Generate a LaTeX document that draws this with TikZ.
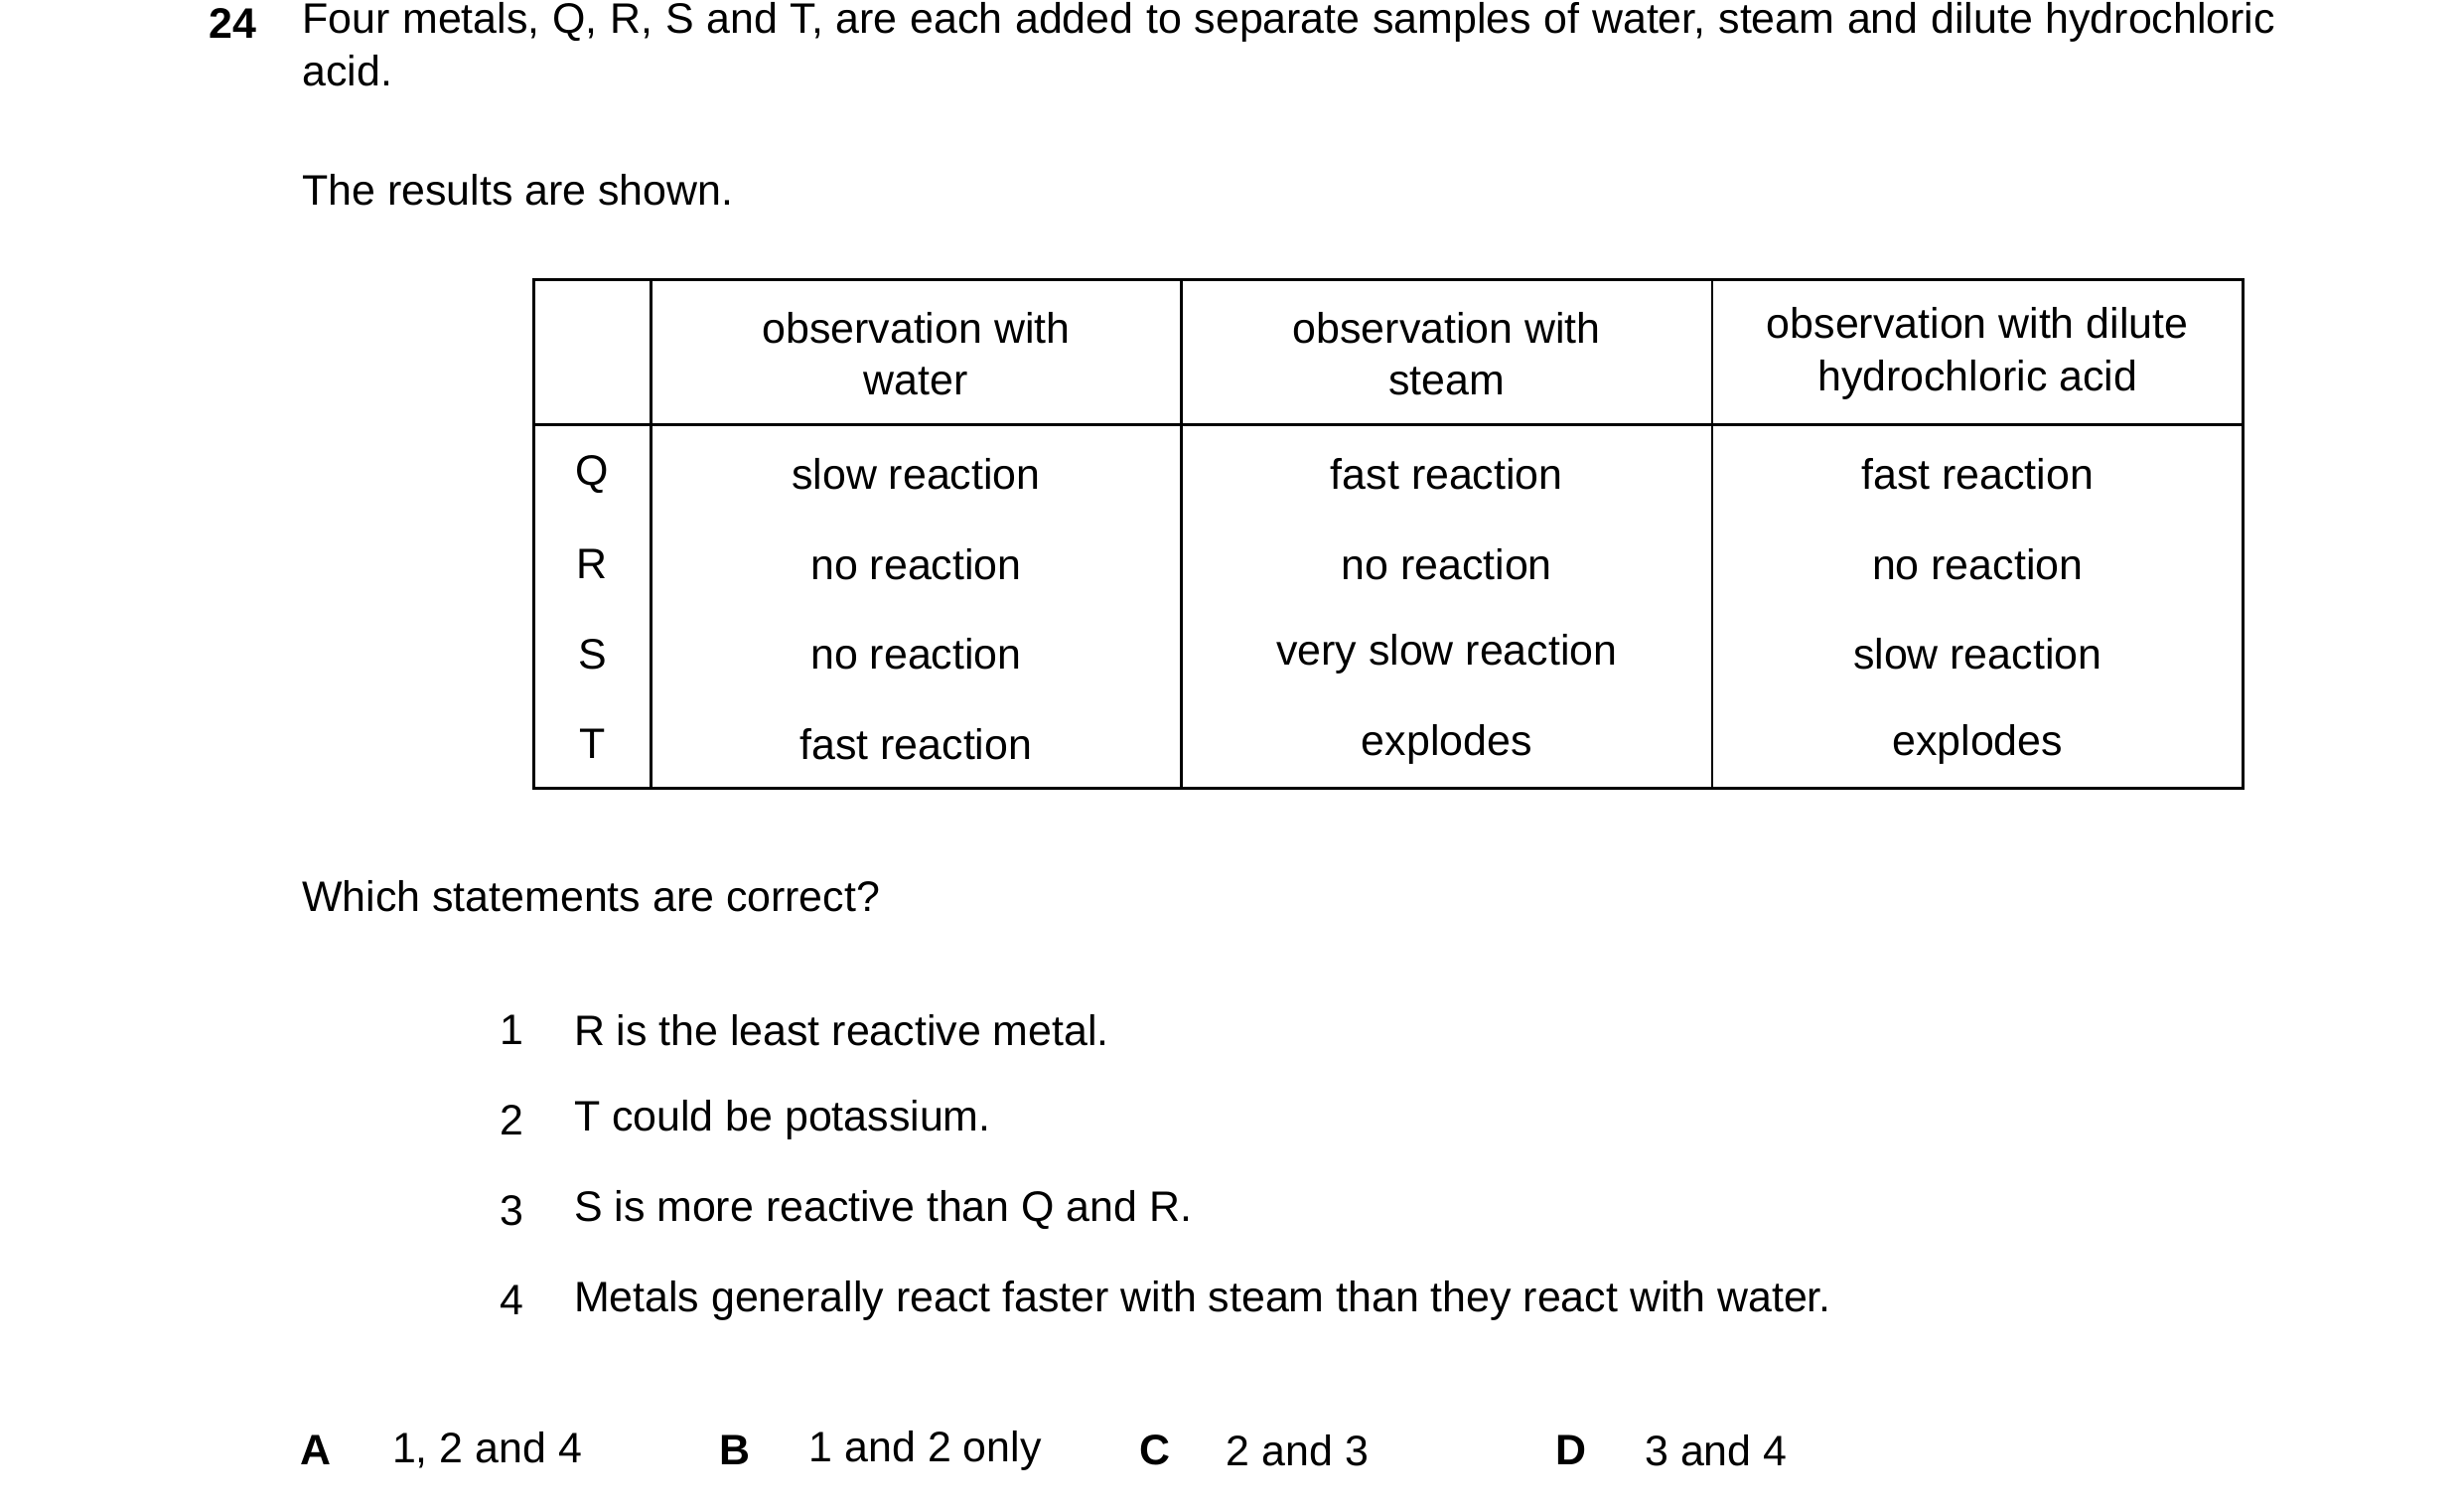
\documentclass[tikz,border=0pt]{standalone}
\usepackage{fontspec}
\setmainfont{Liberation Sans}

\begin{document}
\begin{tikzpicture}[x=0.0159cm,y=-0.0159cm,font=\fontsize{12.2}{15}\selectfont,
    txt/.style={anchor=west,inner sep=0pt},
    cell/.style={align=center,inner sep=0pt},
    grid/.style={line width=0.8pt}]

            \useasboundingbox (0,0) rectangle (1560,955);

            \node[inner sep=0pt,anchor=east] (num) at (163,15) {\textbf{24}};
            \node[txt,anchor=north west,text width=19.86cm,align=justify] (intro) at (191,1)
                {Four metals, Q, R, S and T, are each added to separate samples of water, steam and dilute hydrochloric acid.};
            \node[txt] (shown) at (191,120) {The results are shown.};

            % table
            \draw[grid] (338,177) rectangle (1420,499);
            \draw[grid] (338,269) -- (1420,269);
            \draw[grid] (412,177) -- (412,499);
            \draw[grid] (748,177) -- (748,499);
            \draw[grid] (1084,177) -- (1084,499);

            \node[cell] (h1) at (580,224) {observation with\\water};
            \node[cell] (h2) at (916,224) {observation with\\steam};
            \node[cell] (h3) at (1252,224) {observation with dilute\\hydrochloric acid};

            \foreach \m/\a/\b/\c [count=\i] in {Q/slow reaction/fast reaction/fast reaction,
                R/no reaction/no reaction/no reaction,
                S/no reaction/very slow reaction/slow reaction,
                T/fast reaction/explodes/explodes} {
                \node[cell] (m\i) at (375,243+57*\i) {\m};
                \node[cell] (w\i) at (580,243+57*\i) {\a};
                \node[cell] (s\i) at (916,243+57*\i) {\b};
                \node[cell] (d\i) at (1252,243+57*\i) {\c};
            }

            \node[txt] (which) at (191,567) {Which statements are correct?};

            \foreach \t [count=\i] in {R is the least reactive metal.,
                T could be potassium.,
                S is more reactive than Q and R.,
                Metals generally react faster with steam than they react with water.} {
                \node[cell] (n\i) at (324,595+57*\i) {\i};
                \node[txt] (st\i) at (363,595+57*\i) {\t};
            }

            \node[cell] (A) at (200,918) {\textbf{A}};
            \node[txt] (a) at (248,918) {1, 2 and 4};
            \node[cell] (B) at (465,918) {\textbf{B}};
            \node[txt] (b) at (512,918) {1 and 2 only};
            \node[cell] (C) at (731,918) {\textbf{C}};
            \node[txt] (c) at (776,918) {2 and 3};
            \node[cell] (D) at (995,918) {\textbf{D}};
            \node[txt] (d) at (1041,918) {3 and 4};

        \end{tikzpicture}
\end{document}
